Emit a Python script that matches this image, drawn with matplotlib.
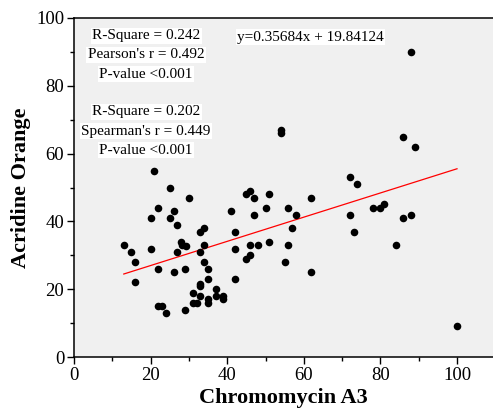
import numpy as np
import matplotlib.pyplot as plt
from matplotlib.ticker import MultipleLocator

plt.rcParams['font.family'] = ['Liberation Serif', 'DejaVu Serif']

# Chromomycin A3 vs Acridine Orange, one pair per sample
cma3 = [13, 15, 16, 16, 20, 20, 21, 22, 22, 22, 23, 24, 25, 25, 26, 26, 27, 27,
        28, 28.3, 29.2, 29, 29, 30, 31, 31, 32, 33, 34, 33, 34, 34, 33, 33, 33,
        35, 35, 35, 35, 37, 37, 39, 39, 41, 42, 42, 42, 45, 46, 47, 47, 50, 51,
        46, 48, 51, 46, 45, 54, 54, 55, 56, 56, 57, 58, 62, 62, 72, 74, 72, 73,
        78, 80, 81, 84, 86, 88, 86, 89, 88, 100]
ao = [33, 31, 28, 22, 32, 41, 55, 44, 26, 15, 15, 13, 50, 41, 43, 25, 39, 31,
      34, 33, 32.8, 26, 14, 47, 19, 16, 16, 37, 38, 31, 33, 28, 21.4, 20.8, 18,
      26, 23, 17, 16, 20, 18, 18, 17, 43, 37, 32, 23, 48, 49, 47, 42, 44, 48,
      33, 33, 34, 30, 29, 67, 66, 28, 44, 33, 38, 42, 47, 25, 53, 51, 42, 37,
      44, 44, 45, 33, 41, 42, 65, 62, 90, 9]

slope = 0.35684
intercept = 19.84124

pearson_lines = ["R-Square = 0.242", "Pearson's r = 0.492", "P-value <0.001"]
spearman_lines = ["R-Square = 0.202", "Spearman's r = 0.449", "P-value <0.001"]

fig = plt.figure(figsize=(4.93, 4.16), dpi=100)
ax = fig.add_axes([74 / 493, 59 / 416, 419 / 493, 339 / 416])
ax.set_facecolor('#f0f0f0')

ax.scatter(cma3, ao, s=30, color='black', zorder=3, linewidths=0)

xs = np.array([min(cma3), max(cma3)])
ax.plot(xs, slope * xs + intercept, color='red', lw=0.9, zorder=2)

ax.set_xlim(0, 419 / 3.83)
ax.set_ylim(0, 100)
ax.xaxis.set_minor_locator(MultipleLocator(10))
ax.yaxis.set_major_locator(MultipleLocator(20))
ax.yaxis.set_minor_locator(MultipleLocator(10))
ax.set_xticks([0, 20, 40, 60, 80, 100])
ax.tick_params(which='major', direction='out', length=5, width=1, labelsize=13.5, pad=2)
ax.tick_params(which='minor', direction='out', length=3, width=1)
for sp in ax.spines.values():
    sp.set_linewidth(1.1)
ax.spines['right'].set_visible(False)

ax.set_xlabel('Chromomycin A3', fontsize=16, fontweight='bold', labelpad=3)
ax.set_ylabel('Acridine Orange', fontsize=16, fontweight='bold', labelpad=4)

box = dict(facecolor='white', edgecolor='none', pad=1)
tx = 72 / 419
for i, s in enumerate(pearson_lines):
    ax.text(tx, (357 - 36 - 19 * i) / 339, s, transform=ax.transAxes, ha='center',
            va='center', fontsize=11, bbox=box)
for i, s in enumerate(spearman_lines):
    ax.text(tx, (357 - 112 - 19 * i) / 339, s, transform=ax.transAxes, ha='center',
            va='center', fontsize=11, bbox=box)
ax.text((237 - 74) / 419, (357 - 37) / 339, 'y=0.35684x + 19.84124',
        transform=ax.transAxes, ha='left', va='center', fontsize=11, bbox=box)

fig.savefig('out.png', dpi=100)
